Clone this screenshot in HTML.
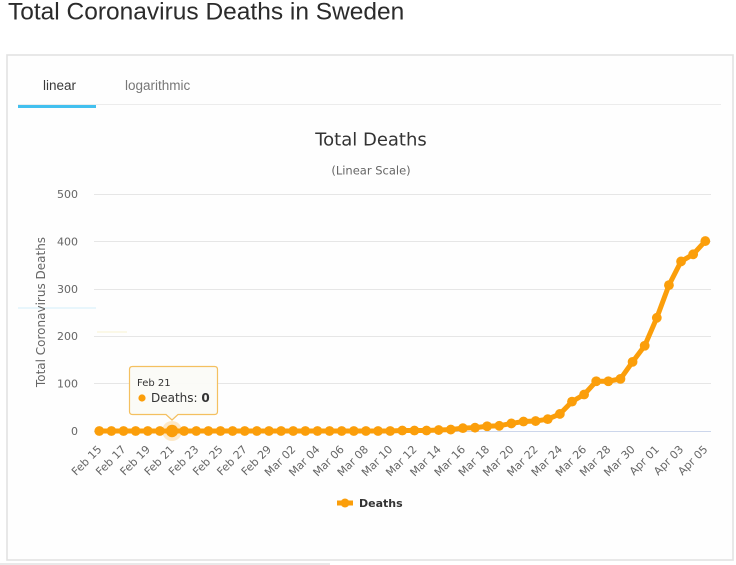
<!DOCTYPE html>
<html>
<head>
<meta charset="utf-8">
<style>
  html,body{margin:0;padding:0;background:#ffffff;}
  body{width:736px;height:565px;overflow:hidden;}
  svg{display:block;}
</style>
</head>
<body>
<svg width="736" height="565" viewBox="0 0 736 565" xmlns="http://www.w3.org/2000/svg">
  <defs>
    <marker id="dot" markerUnits="userSpaceOnUse" markerWidth="12" markerHeight="12" refX="6" refY="6" viewBox="0 0 12 12">
      <circle cx="6" cy="6" r="4.9" fill="#fb9e0a"/>
    </marker>
  </defs>

  <!-- page heading -->
  <text x="8" y="19.5" font-family="Liberation Sans, Arial, sans-serif" font-size="24.5" fill="#2b2b2b">Total Coronavirus Deaths in Sweden</text>

  <!-- panel -->
  <rect x="7" y="55" width="726" height="505" fill="#fefefe" stroke="#e2e2e2" stroke-width="1.6"/>

  <!-- tabs -->
  <line x1="18" y1="104.5" x2="721" y2="104.5" stroke="#ececec" stroke-width="1"/>
  <rect x="18" y="105" width="78" height="3" fill="#42c0ef"/>
  <text x="59.5" y="90" text-anchor="middle" font-family="Liberation Sans, Arial, sans-serif" font-size="13.5" fill="#3a3a3a">linear</text>
  <text x="125" y="90" font-family="Liberation Sans, Arial, sans-serif" font-size="13.5" fill="#777">logarithmic</text>

  <!-- faint artifacts -->
  <line x1="18" y1="308" x2="96" y2="308" stroke="#d2eefa" stroke-width="1"/>
  <line x1="97" y1="332" x2="127" y2="332" stroke="#f8f2d0" stroke-width="1"/>

  <!-- chart titles -->
  <text x="371" y="145.5" text-anchor="middle" font-family="DejaVu Sans, Liberation Sans, sans-serif" font-size="18" fill="#333">Total Deaths</text>
  <text x="371" y="174.5" text-anchor="middle" font-family="DejaVu Sans, Liberation Sans, sans-serif" font-size="11.5" fill="#666">(Linear Scale)</text>

  <!-- gridlines -->
  <g stroke="#e6e6e6" stroke-width="1">
    <line x1="94" y1="194.5" x2="711" y2="194.5"/>
    <line x1="94" y1="241.5" x2="711" y2="241.5"/>
    <line x1="94" y1="289.5" x2="711" y2="289.5"/>
    <line x1="94" y1="336.5" x2="711" y2="336.5"/>
    <line x1="94" y1="383.5" x2="711" y2="383.5"/>
  </g>
  <line x1="94" y1="431.5" x2="711" y2="431.5" stroke="#ccd6eb" stroke-width="1"/>

  <!-- y labels -->
  <g font-family="DejaVu Sans, Liberation Sans, sans-serif" font-size="11" fill="#666" text-anchor="end">
    <text x="78" y="198">500</text>
    <text x="78" y="245.5">400</text>
    <text x="78" y="293">300</text>
    <text x="78" y="340">200</text>
    <text x="78" y="387.5">100</text>
    <text x="78" y="435">0</text>
  </g>
  <text x="45" y="312" transform="rotate(-90 45 312)" text-anchor="middle" font-family="DejaVu Sans, Liberation Sans, sans-serif" font-size="12" fill="#666">Total Coronavirus Deaths</text>

  <!-- x labels -->
  <g font-family="DejaVu Sans, Liberation Sans, sans-serif" font-size="11" fill="#666" text-anchor="end">
    <text x="102.3" y="450" transform="rotate(-45 102.3 450)">Feb 15</text>
    <text x="126.5" y="450" transform="rotate(-45 126.5 450)">Feb 17</text>
    <text x="150.8" y="450" transform="rotate(-45 150.8 450)">Feb 19</text>
    <text x="175.0" y="450" transform="rotate(-45 175.0 450)">Feb 21</text>
    <text x="199.3" y="450" transform="rotate(-45 199.3 450)">Feb 23</text>
    <text x="223.5" y="450" transform="rotate(-45 223.5 450)">Feb 25</text>
    <text x="247.7" y="450" transform="rotate(-45 247.7 450)">Feb 27</text>
    <text x="272.0" y="450" transform="rotate(-45 272.0 450)">Feb 29</text>
    <text x="296.2" y="450" transform="rotate(-45 296.2 450)">Mar 02</text>
    <text x="320.5" y="450" transform="rotate(-45 320.5 450)">Mar 04</text>
    <text x="344.7" y="450" transform="rotate(-45 344.7 450)">Mar 06</text>
    <text x="368.9" y="450" transform="rotate(-45 368.9 450)">Mar 08</text>
    <text x="393.2" y="450" transform="rotate(-45 393.2 450)">Mar 10</text>
    <text x="417.4" y="450" transform="rotate(-45 417.4 450)">Mar 12</text>
    <text x="441.7" y="450" transform="rotate(-45 441.7 450)">Mar 14</text>
    <text x="465.9" y="450" transform="rotate(-45 465.9 450)">Mar 16</text>
    <text x="490.1" y="450" transform="rotate(-45 490.1 450)">Mar 18</text>
    <text x="514.4" y="450" transform="rotate(-45 514.4 450)">Mar 20</text>
    <text x="538.6" y="450" transform="rotate(-45 538.6 450)">Mar 22</text>
    <text x="562.9" y="450" transform="rotate(-45 562.9 450)">Mar 24</text>
    <text x="587.1" y="450" transform="rotate(-45 587.1 450)">Mar 26</text>
    <text x="611.3" y="450" transform="rotate(-45 611.3 450)">Mar 28</text>
    <text x="635.6" y="450" transform="rotate(-45 635.6 450)">Mar 30</text>
    <text x="659.8" y="450" transform="rotate(-45 659.8 450)">Apr 01</text>
    <text x="684.1" y="450" transform="rotate(-45 684.1 450)">Apr 03</text>
    <text x="708.3" y="450" transform="rotate(-45 708.3 450)">Apr 05</text>
  </g>

  <!-- hover halo -->
  <circle cx="172.02" cy="431" r="10" fill="#fb9e0a" fill-opacity="0.22"/>

  <!-- series -->
  <polyline fill="none" stroke="#fb9e0a" stroke-width="5" stroke-linejoin="round" stroke-linecap="round"
    marker-start="url(#dot)" marker-mid="url(#dot)" marker-end="url(#dot)"
    points="99.3,431 111.42,431 123.54,431 135.66,431 147.78,431 159.9,431 172.02,431 184.14,431 196.26,431 208.38,431 220.5,431 232.62,431 244.74,431 256.86,431 268.98,431 281.1,431 293.22,431 305.34,431 317.46,431 329.58,431 341.7,431 353.82,431 365.94,431 378.06,431 390.18,431 402.3,430.53 414.42,430.53 426.54,430.53 438.66,430.05 450.78,429.58 462.9,428.16 475.02,427.68 487.14,426.26 499.26,425.79 511.38,423.42 523.5,421.53 535.62,421.05 547.74,419.16 559.86,413.95 571.98,401.63 584.1,394.53 596.22,381.26 608.34,381.26 620.46,378.89 632.58,361.84 644.7,345.73 656.82,317.79 668.94,285.1 681.06,261.42 693.18,254.31 705.3,241.05"/>

  <!-- hovered point -->
  <circle cx="172.02" cy="431" r="6.2" fill="#fb9e0a"/>

  <!-- tooltip -->
  <path d="M132.5 366.5 H214.5 Q217.5 366.5 217.5 369.5 V411.5 Q217.5 414.5 214.5 414.5 H178 L172 420 L166 414.5 H132.5 Q129.5 414.5 129.5 411.5 V369.5 Q129.5 366.5 132.5 366.5 Z"
        fill="#fbfbf7" fill-opacity="0.96" stroke="#f4c060" stroke-width="1.2"/>
  <text x="137" y="386" font-family="DejaVu Sans, Liberation Sans, sans-serif" font-size="10" fill="#333">Feb 21</text>
  <circle cx="142" cy="398" r="3.6" fill="#fb9e0a"/>
  <text x="151" y="402" font-family="DejaVu Sans, Liberation Sans, sans-serif" font-size="12" fill="#333">Deaths: <tspan font-weight="bold">0</tspan></text>

  <!-- legend -->
  <line x1="337" y1="503" x2="353" y2="503" stroke="#fb9e0a" stroke-width="5"/>
  <circle cx="345" cy="503" r="4.5" fill="#fb9e0a"/>
  <text x="359" y="507" font-family="DejaVu Sans, Liberation Sans, sans-serif" font-size="11" font-weight="bold" fill="#333">Deaths</text>

  <!-- bottom strip -->
  <rect x="0" y="563" width="330" height="2" fill="#e9e9e9"/>
</svg>
</body>
</html>
